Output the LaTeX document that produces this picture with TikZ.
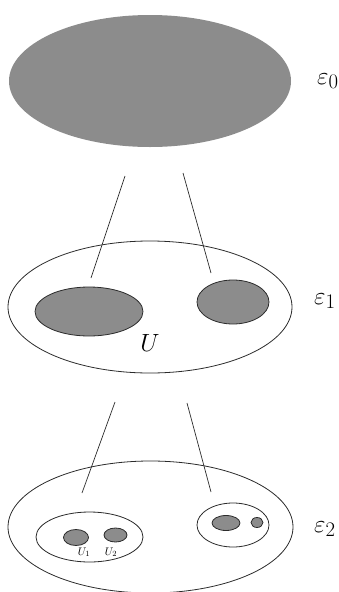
\documentclass[tikz,border=0pt]{standalone}
\usetikzlibrary{shapes.geometric}
\definecolor{blobgray}{HTML}{8C8C8C}
\definecolor{inkgray}{HTML}{2B2B2B}
\begin{document}
\begin{tikzpicture}[x=1pt,y=-1pt,
  ell/.style={ellipse,inner sep=0pt,minimum width=#1},
  outl/.style={draw=inkgray,line width=0.8pt},
  blob/.style={draw=inkgray,line width=0.8pt,fill=blobgray},
  conn/.style={draw=inkgray,line width=0.7pt},
  lvl/.style={anchor=base west,inner sep=0pt,font=\fontsize{29}{33}\selectfont},
  ulab/.style={anchor=base,inner sep=0pt}]
\clip (0,0) rectangle (339,592);
% level 0
\node[ell=282pt,minimum height=132pt,fill=blobgray] (e0) at (150,81) {};
\node[lvl] (l0) at (317,84) {$\varepsilon_0$};
% level 1
\node[ell=284pt,minimum height=132pt,outl] (e1) at (150,307) {};
\node[ell=108pt,minimum height=49pt,blob] (a1) at (89,311.5) {};
\node[ell=72pt,minimum height=44pt,blob] (b1) at (233,302) {};
\node[ulab,font=\fontsize{24}{28}\selectfont] (u) at (150,351) {$U$};
\node[lvl] (l1) at (314,304) {$\varepsilon_1$};
% connectors 0 -> 1
\coordinate (p1) at (125,176);
\coordinate (q1) at (91,278);
\coordinate (p2) at (183,173);
\coordinate (q2) at (211,273);
\draw[conn] (p1) -- (q1);
\draw[conn] (p2) -- (q2);
% level 2
\node[ell=285pt,minimum height=132pt,outl] (e2) at (150.5,527) {};
\node[ell=107pt,minimum height=50pt,outl] (a2) at (89.5,537) {};
\node[ell=72pt,minimum height=44pt,outl] (b2) at (233,525) {};
\node[ell=25pt,minimum height=16pt,blob] (u1) at (76,537.5) {};
\node[ell=23pt,minimum height=14pt,blob] (u2) at (115.5,535) {};
\node[ell=28pt,minimum height=15pt,blob] (c2) at (226,523) {};
\node[ell=12pt,minimum height=10pt,blob] (d2) at (257,522.5) {};
\node[ulab,font=\fontsize{11}{13}\selectfont] (lu1) at (84,555) {$U_1$};
\node[ulab,font=\fontsize{11}{13}\selectfont] (lu2) at (111,555) {$U_2$};
\node[lvl] (l2) at (314,532) {$\varepsilon_2$};
% connectors 1 -> 2
\coordinate (p3) at (115,402);
\coordinate (q3) at (82,493);
\coordinate (p4) at (187,403);
\coordinate (q4) at (211,492);
\draw[conn] (p3) -- (q3);
\draw[conn] (p4) -- (q4);
\end{tikzpicture}
\end{document}
